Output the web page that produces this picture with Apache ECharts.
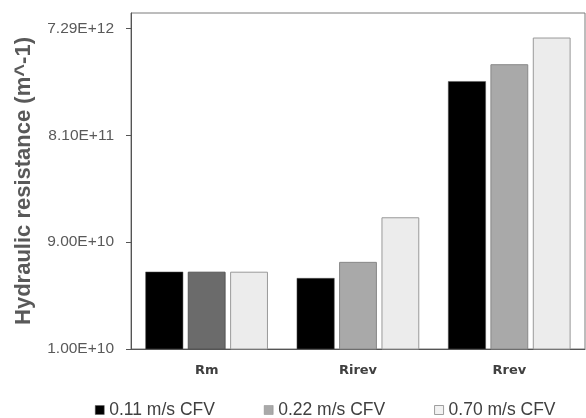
<!DOCTYPE html>
<html>
<head>
<meta charset="utf-8">
<script src="https://cdn.jsdelivr.net/npm/echarts@6/dist/echarts.min.js"></script>
<style>
  html, body { margin: 0; padding: 0; background: #fff; }
  #chart { width: 586px; height: 418px; }
</style>
</head>
<body>
<div id="chart"></div>
<script>
var categories = ["Rm", "Rirev", "Rrev"];
var seriesNames = ["0.11 m/s CFV", "0.22 m/s CFV", "0.70 m/s CFV"];
var cfv011 = [4.9e10, 4.3e10, 2.46e12];
var cfv022 = [4.9e10, 6.0e10, 3.49e12];
var cfv070 = [4.9e10, 1.5e11, 6.04e12];
var yTicks = [1e10, 9e10, 8.1e11, 7.29e12];

var chart = echarts.init(document.getElementById("chart"));

function fmtExp(v) {
  return Number(v).toExponential(2).toUpperCase(); // 9.00E+10
}

var option = {
  animation: false,
  grid: {
    left: 131,
    right: 1,
    top: 13,
    bottom: 69,
    show: true,
    borderColor: "#7a7a7a",
    borderWidth: 1,
  },
  legend: {
    bottom: -6,
    left: 90,
    itemWidth: 9,
    itemHeight: 9,
    itemGap: 49,
    icon: "rect",
    textStyle: {
      fontFamily: "Liberation Sans",
      fontSize: 17.5,
      color: "#404040",
    },
    data: [
      { name: seriesNames[0], itemStyle: { color: "#000", borderColor: "#555", borderWidth: 0.5 } },
      { name: seriesNames[1], itemStyle: { color: "#a9a9a9", borderColor: "#888", borderWidth: 0.5 } },
      { name: seriesNames[2], itemStyle: { color: "#f2f2f2", borderColor: "#888", borderWidth: 0.8 } },
    ],
  },
  xAxis: {
    type: "category",
    data: categories,
    axisLine: { lineStyle: { color: "#555", width: 1 } },
    axisTick: { show: false },
    axisLabel: {
      margin: 15,
      fontFamily: "DejaVu Sans",
      fontWeight: "bold",
      fontSize: 13,
      color: "#404040",
    },
  },
  yAxis: {
    type: "log",
    logBase: 9,
    min: 1e10,
    max: 1e13,
    name: "Hydraulic resistance (m^-1)",
    nameLocation: "middle",
    nameGap: 96,
    nameTextStyle: {
      fontFamily: "Liberation Sans",
      fontWeight: "bold",
      fontSize: 22,
      color: "#595959",
    },
    axisLine: { show: true, lineStyle: { color: "#555", width: 1 } },
    axisTick: {
      show: true,
      length: 5,
      customValues: yTicks,
      lineStyle: { color: "#555" },
    },
    splitLine: { show: false },
    axisLabel: {
      customValues: yTicks,
      margin: 17,
      fontFamily: "Liberation Sans",
      fontSize: 15.5,
      color: "#595959",
      formatter: function (v) { return fmtExp(v); },
    },
  },
  series: [
    {
      name: seriesNames[0],
      type: "bar",
      data: cfv011,
      barWidth: "25%",
      barGap: "12%",
      itemStyle: { color: "#000", borderColor: "#555", borderWidth: 0.5 },
    },
    {
      name: seriesNames[1],
      type: "bar",
      data: cfv022.map(function (v, i) {
        // Rm bar drawn darker in the original figure
        return i === 0
          ? { value: v, itemStyle: { color: "#6b6b6b", borderColor: "#555" } }
          : v;
      }),
      barWidth: "25%",
      barGap: "12%",
      itemStyle: { color: "#a9a9a9", borderColor: "#888", borderWidth: 1 },
    },
    {
      name: seriesNames[2],
      type: "bar",
      data: cfv070,
      barWidth: "25%",
      barGap: "12%",
      itemStyle: { color: "#ececec", borderColor: "#999", borderWidth: 1 },
    },
  ],
};

chart.setOption(option);
</script>
</body>
</html>
